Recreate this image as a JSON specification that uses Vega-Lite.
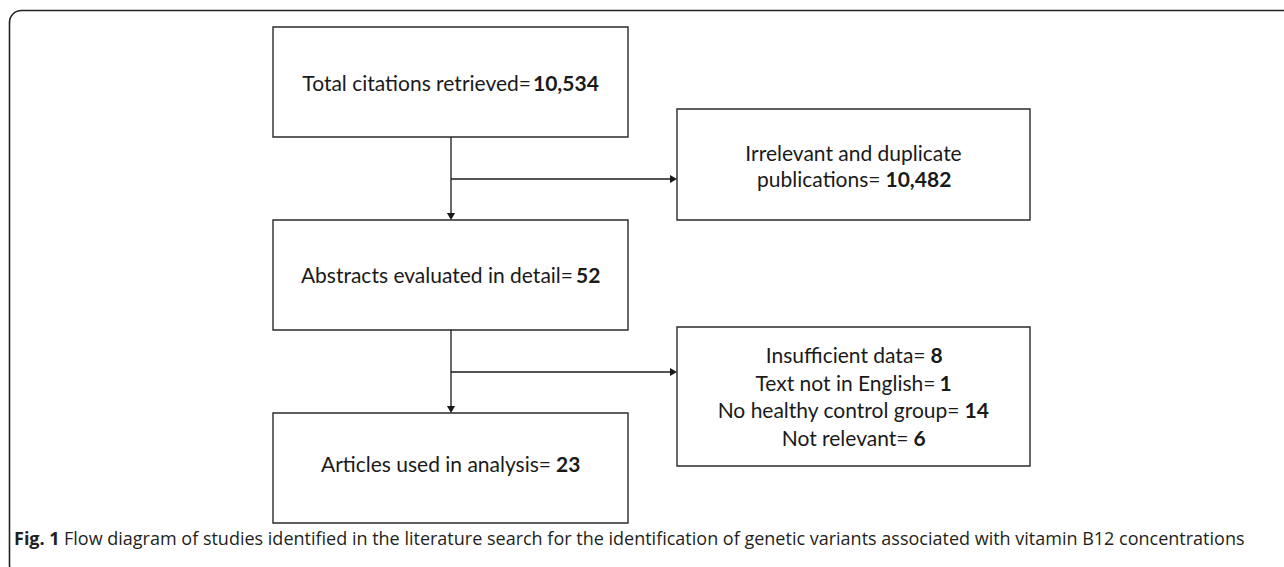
{
  "$schema": "https://vega.github.io/schema/vega-lite/v6.json",
  "width": 1284,
  "height": 567,
  "padding": 0,
  "autosize": {"type": "none"},
  "background": "white",
  "config": {"view": {"stroke": null}},
  "datasets": {
    "frame": [{"x": 9.5, "x2": 1320, "y": 10.5, "y2": 577}],
    "boxes": [
      {"x": 273, "x2": 628, "y": 27, "y2": 137},
      {"x": 677, "x2": 1030, "y": 109, "y2": 220},
      {"x": 273, "x2": 628, "y": 220, "y2": 330},
      {"x": 677, "x2": 1030, "y": 327, "y2": 466},
      {"x": 273, "x2": 628, "y": 413, "y2": 523}
    ],
    "links": [
      {"x": 451, "x2": 451, "y": 137, "y2": 215},
      {"x": 451, "x2": 451, "y": 330, "y2": 408},
      {"x": 451, "x2": 672, "y": 179, "y2": 179},
      {"x": 451, "x2": 672, "y": 372, "y2": 372}
    ],
    "headsDown": [{"x": 451, "y": 216.5}, {"x": 451, "y": 409.5}],
    "headsRight": [{"x": 673.5, "y": 179}, {"x": 673.5, "y": 372}],
    "mixed": [
      {"x": 531, "xn": 533, "y": 91, "pre": "Total citations retrieved=", "num": "10,534"},
      {"x": 880.5, "xn": 885.5, "y": 187, "pre": "publications=", "num": "10,482"},
      {"x": 573, "xn": 576, "y": 283, "pre": "Abstracts evaluated in detail=", "num": "52"},
      {"x": 925.5, "xn": 930.5, "y": 363, "pre": "Insufficient data=", "num": "8"},
      {"x": 935.5, "xn": 939.5, "y": 391, "pre": "Text not in English=", "num": "1"},
      {"x": 959.5, "xn": 964.5, "y": 418, "pre": "No healthy control group=", "num": "14"},
      {"x": 908.5, "xn": 913.5, "y": 446, "pre": "Not relevant=", "num": "6"},
      {"x": 551, "xn": 556, "y": 472, "pre": "Articles used in analysis=", "num": "23"}
    ],
    "plain": [
      {"x": 853.5, "y": 161, "text": "Irrelevant and duplicate"}
    ],
    "caption": [
      {"x": 14, "x2": 64, "y": 545, "lead": "Fig. 1", "text": "Flow diagram of studies identified in the literature search for the identification of genetic variants associated with vitamin B12 concentrations"}
    ]
  },
  "layer": [
    {
      "data": {"name": "frame"},
      "mark": {"type": "rect", "fill": null, "stroke": "#222222", "strokeWidth": 1.6, "cornerRadius": 12, "clip": true},
      "encoding": {
        "x": {"field": "x", "type": "quantitative", "scale": {"domain": [0, 1284], "nice": false, "zero": false}, "axis": null},
        "x2": {"field": "x2"},
        "y": {"field": "y", "type": "quantitative", "scale": {"domain": [0, 567], "nice": false, "zero": false, "reverse": true}, "axis": null},
        "y2": {"field": "y2"}
      }
    },
    {
      "data": {"name": "boxes"},
      "mark": {"type": "rect", "fill": null, "stroke": "#2a2a2a", "strokeWidth": 1.4},
      "encoding": {
        "x": {"field": "x", "type": "quantitative", "scale": {"domain": [0, 1284], "nice": false, "zero": false}, "axis": null},
        "x2": {"field": "x2"},
        "y": {"field": "y", "type": "quantitative", "scale": {"domain": [0, 567], "nice": false, "zero": false, "reverse": true}, "axis": null},
        "y2": {"field": "y2"}
      }
    },
    {
      "data": {"name": "links"},
      "mark": {"type": "rule", "stroke": "#1a1a1a", "strokeWidth": 1.3},
      "encoding": {
        "x": {"field": "x", "type": "quantitative", "scale": {"domain": [0, 1284], "nice": false, "zero": false}, "axis": null},
        "x2": {"field": "x2"},
        "y": {"field": "y", "type": "quantitative", "scale": {"domain": [0, 567], "nice": false, "zero": false, "reverse": true}, "axis": null},
        "y2": {"field": "y2"}
      }
    },
    {
      "data": {"name": "headsDown"},
      "mark": {"type": "point", "shape": "triangle-down", "filled": true, "color": "#1a1a1a", "opacity": 1, "size": 66},
      "encoding": {
        "x": {"field": "x", "type": "quantitative", "scale": {"domain": [0, 1284], "nice": false, "zero": false}, "axis": null},
        "y": {"field": "y", "type": "quantitative", "scale": {"domain": [0, 567], "nice": false, "zero": false, "reverse": true}, "axis": null}
      }
    },
    {
      "data": {"name": "headsRight"},
      "mark": {"type": "point", "shape": "triangle-right", "filled": true, "color": "#1a1a1a", "opacity": 1, "size": 66},
      "encoding": {
        "x": {"field": "x", "type": "quantitative", "scale": {"domain": [0, 1284], "nice": false, "zero": false}, "axis": null},
        "y": {"field": "y", "type": "quantitative", "scale": {"domain": [0, 567], "nice": false, "zero": false, "reverse": true}, "axis": null}
      }
    },
    {
      "data": {"name": "mixed"},
      "mark": {"type": "text", "align": "right", "baseline": "alphabetic", "font": "Lato", "fontSize": 21, "color": "#1a1a1a"},
      "encoding": {
        "x": {"field": "x", "type": "quantitative", "scale": {"domain": [0, 1284], "nice": false, "zero": false}, "axis": null},
        "y": {"field": "y", "type": "quantitative", "scale": {"domain": [0, 567], "nice": false, "zero": false, "reverse": true}, "axis": null},
        "text": {"field": "pre"}
      }
    },
    {
      "data": {"name": "mixed"},
      "mark": {"type": "text", "align": "left", "baseline": "alphabetic", "font": "Lato", "fontSize": 21, "fontWeight": "bold", "color": "#1a1a1a"},
      "encoding": {
        "x": {"field": "xn", "type": "quantitative", "scale": {"domain": [0, 1284], "nice": false, "zero": false}, "axis": null},
        "y": {"field": "y", "type": "quantitative", "scale": {"domain": [0, 567], "nice": false, "zero": false, "reverse": true}, "axis": null},
        "text": {"field": "num"}
      }
    },
    {
      "data": {"name": "plain"},
      "mark": {"type": "text", "align": "center", "baseline": "alphabetic", "font": "Lato", "fontSize": 21, "color": "#1a1a1a"},
      "encoding": {
        "x": {"field": "x", "type": "quantitative", "scale": {"domain": [0, 1284], "nice": false, "zero": false}, "axis": null},
        "y": {"field": "y", "type": "quantitative", "scale": {"domain": [0, 567], "nice": false, "zero": false, "reverse": true}, "axis": null},
        "text": {"field": "text"}
      }
    },
    {
      "data": {"name": "caption"},
      "mark": {"type": "text", "align": "left", "baseline": "alphabetic", "font": "Open Sans", "fontSize": 18, "fontWeight": "bold", "color": "#231f20"},
      "encoding": {
        "x": {"field": "x", "type": "quantitative", "scale": {"domain": [0, 1284], "nice": false, "zero": false}, "axis": null},
        "y": {"field": "y", "type": "quantitative", "scale": {"domain": [0, 567], "nice": false, "zero": false, "reverse": true}, "axis": null},
        "text": {"field": "lead"}
      }
    },
    {
      "data": {"name": "caption"},
      "mark": {"type": "text", "align": "left", "baseline": "alphabetic", "font": "Open Sans", "fontSize": 18, "color": "#231f20"},
      "encoding": {
        "x": {"field": "x2", "type": "quantitative", "scale": {"domain": [0, 1284], "nice": false, "zero": false}, "axis": null},
        "y": {"field": "y", "type": "quantitative", "scale": {"domain": [0, 567], "nice": false, "zero": false, "reverse": true}, "axis": null},
        "text": {"field": "text"}
      }
    }
  ]
}
